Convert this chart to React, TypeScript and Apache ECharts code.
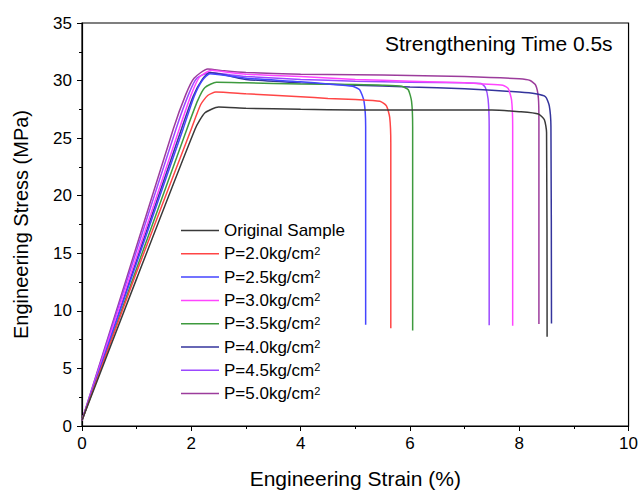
import React, { useEffect, useRef } from "react";
import * as echarts from "echarts";

const seriesNames = [
  "Original Sample",
  "P=2.0kg/cm²",
  "P=2.5kg/cm²",
  "P=3.0kg/cm²",
  "P=3.5kg/cm²",
  "P=4.0kg/cm²",
  "P=4.5kg/cm²",
  "P=5.0kg/cm²",
];

const seriesColors = ["#3a3a3a", "#ff4545", "#4545ff", "#ff45ff", "#3e9a3e", "#34349c", "#9b48ff", "#9c3c9c"];

const originalStrain = [0, 1.0, 2.07, 2.25, 2.5, 3, 4, 5, 6, 7, 7.5, 8.0, 8.35, 8.46, 8.5, 8.51];
const originalStress = [0.5, 12.8, 25.8, 27.2, 27.7, 27.6, 27.5, 27.45, 27.45, 27.45, 27.45, 27.3, 27.1, 26.6, 25.5, 7.75];

const p20Strain = [0, 0.97, 2.0, 2.17, 2.3, 2.45, 3, 4, 4.5, 5, 5.45, 5.57, 5.63, 5.65, 5.65];
const p20Stress = [0.5, 13.0, 25.8, 27.9, 28.7, 29.0, 28.85, 28.6, 28.45, 28.35, 28.2, 27.8, 26.8, 24.5, 8.5];

const p25Strain = [0, 0.9, 1.85, 2.05, 2.2, 2.34, 2.7, 3, 4, 4.5, 4.95, 5.08, 5.16, 5.19, 5.19];
const p25Stress = [0.5, 12.8, 25.8, 28.6, 30.0, 30.6, 30.4, 30.2, 29.9, 29.7, 29.5, 29.2, 28.2, 26, 8.8];

const p30Strain = [0, 0.87, 1.78, 2.0, 2.15, 2.37, 2.7, 3, 4, 5, 6, 7, 7.35, 7.7, 7.8, 7.86, 7.88, 7.88];
const p30Stress = [0.5, 12.9, 25.8, 28.8, 30.3, 30.9, 30.7, 30.55, 30.35, 30.1, 29.95, 29.8, 29.7, 29.6, 29.3, 28.3, 26, 8.7];

const p35Strain = [0, 0.94, 1.92, 2.12, 2.25, 2.46, 3, 4, 5, 5.5, 5.85, 5.97, 6.03, 6.05, 6.05];
const p35Stress = [0.5, 12.9, 25.8, 28.3, 29.4, 29.85, 29.8, 29.7, 29.65, 29.6, 29.5, 29.2, 28.2, 26, 8.3];

const p40Strain = [0, 0.89, 1.82, 2.03, 2.2, 2.34, 2.7, 3, 4, 5, 6, 7, 8.0, 8.3, 8.48, 8.55, 8.58, 8.59];
const p40Stress = [0.5, 12.9, 25.8, 28.6, 30.1, 30.7, 30.4, 30.1, 29.8, 29.6, 29.45, 29.3, 29.0, 28.85, 28.6, 27.8, 26, 8.9];

const p45Strain = [0, 0.84, 1.72, 1.95, 2.1, 2.35, 2.7, 3, 4, 5, 6, 7, 7.3, 7.38, 7.43, 7.45, 7.45];
const p45Stress = [0.5, 12.9, 25.8, 28.8, 30.2, 30.7, 30.5, 30.35, 30.1, 29.95, 29.85, 29.8, 29.75, 29.4, 28.4, 26, 8.75];

const p50Strain = [0, 0.82, 1.67, 1.9, 2.05, 2.3, 2.6, 3, 4, 5, 6, 7, 8.0, 8.2, 8.3, 8.35, 8.36, 8.36];
const p50Stress = [0.5, 12.9, 25.8, 28.8, 30.2, 31.0, 30.85, 30.7, 30.55, 30.5, 30.45, 30.35, 30.15, 30.0, 29.6, 28.5, 26.5, 8.85];

const strainSets = [originalStrain, p20Strain, p25Strain, p30Strain, p35Strain, p40Strain, p45Strain, p50Strain];
const stressSets = [originalStress, p20Stress, p25Stress, p30Stress, p35Stress, p40Stress, p45Stress, p50Stress];

const yTicks = [0, 35, 5];
const xTicks = [0, 10, 2];

const FONT = "'Liberation Sans', Arial, sans-serif";

export default function App() {
  const ref = useRef<HTMLDivElement>(null);
  useEffect(() => {
    if (!ref.current) return;
    const chart = echarts.init(ref.current, null, { renderer: "svg" });
    const series = seriesNames.map((name, i) => ({
      name,
      type: "line",
      data: strainSets[i].map((x, j) => [x, stressSets[i][j]]),
      symbol: "none",
      smooth: 0.2,
      lineStyle: { color: seriesColors[i], width: 1.5 },
      itemStyle: { color: seriesColors[i] },
      z: 10 - i,
    }));
    chart.setOption({
      animation: false,
      backgroundColor: "#ffffff",
      textStyle: { fontFamily: FONT },
      grid: { left: 82, right: 12, top: 23, bottom: 66, show: true, borderColor: "#000", borderWidth: 1.2, backgroundColor: "transparent" },
      xAxis: {
        type: "value",
        min: xTicks[0],
        max: xTicks[1],
        interval: xTicks[2],
        name: "Engineering Strain (%)",
        nameLocation: "middle",
        nameGap: 42,
        nameTextStyle: { fontSize: 21, color: "#000", fontFamily: FONT },
        axisLine: { show: true, lineStyle: { color: "#000", width: 1.2 } },
        axisTick: { show: true, length: 5, lineStyle: { color: "#000" } },
        minorTick: { show: true, splitNumber: 2, length: 3, lineStyle: { color: "#000" } },
        splitLine: { show: false },
        axisLabel: { fontSize: 17, color: "#000", margin: 9, fontFamily: FONT },
      },
      yAxis: {
        type: "value",
        min: yTicks[0],
        max: yTicks[1],
        interval: yTicks[2],
        name: "Engineering Stress (MPa)",
        nameLocation: "middle",
        nameGap: 51,
        nameTextStyle: { fontSize: 20, color: "#000", fontFamily: FONT },
        axisLine: { show: true, lineStyle: { color: "#000", width: 1.2 } },
        axisTick: { show: true, length: 5, lineStyle: { color: "#000" } },
        minorTick: { show: true, splitNumber: 2, length: 3, lineStyle: { color: "#000" } },
        splitLine: { show: false },
        axisLabel: { fontSize: 17, color: "#000", margin: 10, fontFamily: FONT },
      },
      legend: {
        orient: "vertical",
        left: 176,
        top: 217,
        icon: "rect",
        itemWidth: 38,
        itemHeight: 1.5,
        itemGap: 6.3,
        formatter: (name: string) => name.replace("²", "{sup|2}"),
        textStyle: {
          fontSize: 17,
          color: "#000",
          fontFamily: FONT,
          rich: { sup: { fontSize: 11, verticalAlign: "top", color: "#000", fontFamily: FONT } },
        },
        data: seriesNames,
      },
      graphic: [
        {
          type: "text",
          right: 28,
          top: 33,
          style: { text: "Strengthening Time 0.5s", fontSize: 21, fill: "#000", fontFamily: FONT },
        },
      ],
      series,
    });
    return () => chart.dispose();
  }, []);
  return <div ref={ref} style={{ width: 641, height: 494, position: "absolute", left: 0, top: 0 }} />;
}
